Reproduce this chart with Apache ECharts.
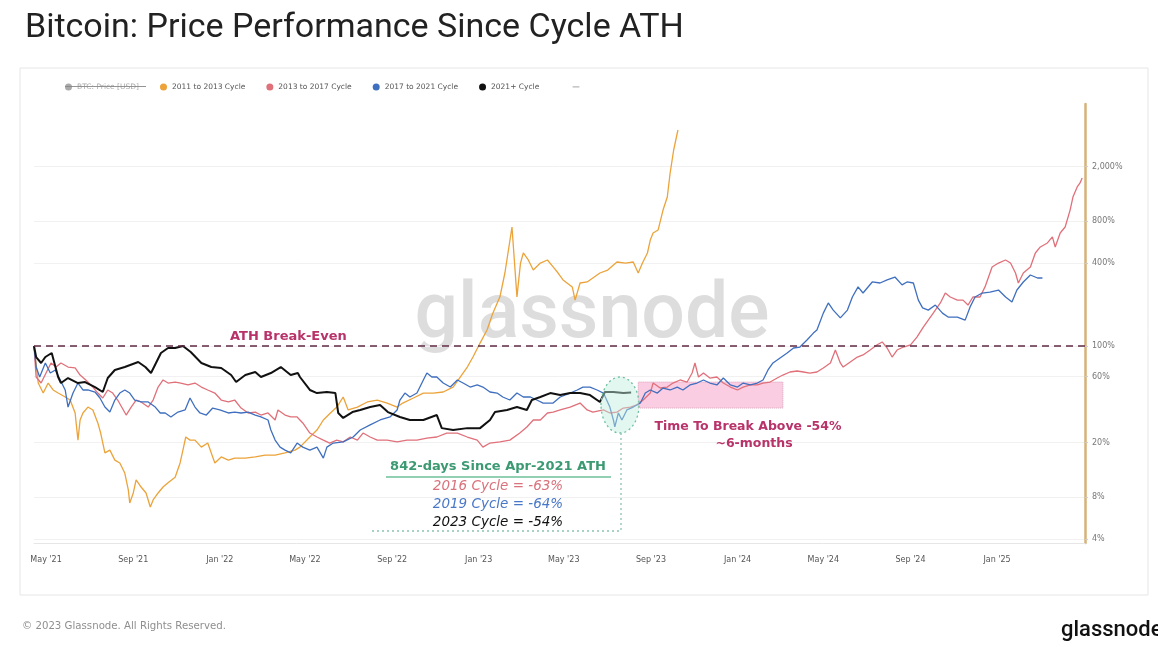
<!DOCTYPE html>
<html><head><meta charset="utf-8">
<script src="https://cdn.jsdelivr.net/npm/echarts@6/dist/echarts.min.js"></script>
<style>html,body{margin:0;padding:0;background:#fff}#c{width:1158px;height:647px}</style>
</head><body><div id="c"></div>
<script>
// ---------- data ----------
const athDate = '2021-04-14';           // Apr-2021 ATH, day 0 of the x axis
const xMaxDay = 1482;
const xTickDates = ['2021-05-01','2021-09-01','2022-01-01','2022-05-01','2022-09-01','2023-01-01','2023-05-01','2023-09-01','2024-01-01','2024-05-01','2024-09-01','2025-01-01'];
const xTickLabels = ["May '21","Sep '21","Jan '22","May '22","Sep '22","Jan '23","May '23","Sep '23","Jan '24","May '24","Sep '24","Jan '25"];
const yTickValues = [4, 8, 20, 60, 100, 400, 800, 2000];
const yTickLabels = ['4%', '8%', '20%', '60%', '100%', '400%', '800%', '2,000%'];
const seriesNames = ['2011 to 2013 Cycle', '2013 to 2017 Cycle', '2017 to 2021 Cycle', '2021+ Cycle'];

// days since cycle ATH, and price as % of cycle ATH
const orangeDays = [0,6,13,20,27,34,44,51,58,59,62,65,69,76,83,90,94,100,107,114,121,128,133,135,140,144,151,158,164,168,175,182,189,199,206,210,214,220,227,236,245,255,264,274,283,298,312,326,340,354,368,375,389,399,408,418,427,436,443,456,470,484,498,512,520,535,549,563,577,591,601,611,619,629,639,647,657,664,669,674,677,681,686,690,697,704,714,724,732,739,746,759,763,770,780,788,798,809,822,834,845,852,858,865,869,873,880,887,893,897,902,908];
const orangeVals = [100,53.9,45.6,53.9,48.0,45.6,42.7,40.6,32.7,29.1,20.8,29.1,32.7,36.1,34.4,27.7,23.4,16.8,17.6,14.9,14.2,12.0,9.05,7.28,8.61,10.7,9.51,8.61,6.81,7.66,8.61,9.51,10.2,11.2,14.2,17.6,21.9,20.8,20.8,18.5,19.8,14.2,15.7,14.9,15.4,15.4,15.7,16.2,16.2,16.8,17.6,18.5,21.9,24.6,29.1,32.7,36.1,42.7,34.4,36.1,39.3,40.6,38.6,36.1,38.6,42.0,45.6,45.6,46.4,50.4,59.6,70.4,83.2,105,131,173,227,338,496,728,441,227,399,472,420,355,399,420,374,338,301,268,215,286,291,311,338,355,406,399,406,338,399,472,586,659,692,966,1201,1793,2632,3674];

const pinkDays = [0,3,10,17,24,31,38,48,58,65,73,83,90,97,104,111,118,126,130,137,144,151,161,168,175,182,189,199,207,217,227,236,245,255,264,274,283,292,302,312,320,330,340,344,354,362,371,379,389,399,408,417,427,436,446,456,464,474,484,498,512,526,540,554,568,582,597,611,625,633,643,657,671,685,695,704,714,724,732,742,756,770,780,788,803,812,822,831,841,850,859,869,873,883,893,901,911,921,928,932,937,944,953,963,972,982,992,1000,1010,1020,1028,1038,1048,1056,1066,1076,1085,1094,1104,1113,1123,1130,1137,1141,1151,1161,1169,1179,1189,1196,1203,1210,1217,1226,1236,1245,1254,1261,1268,1278,1285,1292,1302,1310,1317,1324,1334,1341,1351,1360,1370,1377,1384,1388,1395,1405,1412,1419,1429,1436,1440,1447,1454,1461,1465,1471,1475,1478];
const pinkVals = [100,59.6,53.9,63.7,75.3,70.4,75.3,70.4,69.3,61.6,56.7,50.4,45.6,42.0,48.0,45.6,40.6,34.4,31.6,36.1,40.6,39.3,36.1,40.6,50.4,56.7,53.9,54.8,53.9,52.2,53.9,50.4,48.0,45.6,40.6,39.3,40.6,35.5,32.7,33.2,31.6,32.7,29.1,34.4,31.6,30.6,30.6,27.7,23.4,21.9,20.8,19.8,20.8,20.2,21.9,20.8,23.4,21.9,20.8,20.8,20.2,20.8,20.8,21.5,21.9,23.4,23.4,21.9,20.8,18.5,19.8,20.2,20.8,23.4,25.9,29.1,29.1,32.7,33.2,34.4,36.1,38.6,34.4,33.2,34.4,32.7,33.2,35.5,36.1,37.4,40.6,45.6,53.9,49.6,50.4,53.9,56.7,54.8,63.7,75.3,59.6,63.7,58.6,59.6,53.9,50.4,48.0,50.4,52.2,52.2,53.9,54.8,58.6,61.6,64.8,65.9,64.8,63.7,64.8,69.3,75.3,93.5,75.3,70.4,76.6,83.2,86.1,93.5,102,107,96.7,83.2,93.5,98.3,102,116,137,154,173,205,242,226.5,215,215,198,226.5,226.5,268,374,399,420,399,338,286,338,374,472,522,558,617,522,659,728,966,1201,1420,1518,1650];

const blueDays = [0,3,8,16,23,30,37,44,48,55,62,69,76,86,93,100,107,114,121,128,135,142,151,161,171,178,185,193,203,213,220,227,234,243,252,262,274,283,292,302,312,320,330,334,340,347,354,362,371,379,389,399,408,413,422,436,450,460,474,488,502,512,516,523,530,540,549,554,561,568,577,587,597,605,615,625,633,643,653,661,671,681,690,700,709,718,732,742,756,766,774,784,794,803,812,817,819,824,829,836,845,855,862,869,879,887,897,907,915,925,935,944,953,963,972,982,992,1000,1010,1020,1028,1035,1042,1052,1062,1071,1080,1090,1099,1104,1113,1120,1127,1137,1147,1154,1162,1169,1182,1193,1203,1214,1224,1231,1240,1247,1253,1261,1271,1281,1289,1302,1313,1320,1327,1337,1348,1360,1370,1379,1386,1395,1405,1415,1422];
const blueVals = [100,70.4,59.6,75.3,63.7,67.0,56.7,48.0,36.1,45.6,53.9,48.0,48.0,46.4,42.0,36.1,33.2,40.6,45.6,48.0,45.6,40.6,39.3,39.3,36.1,32.7,32.7,30.6,33.2,34.4,42.0,36.1,32.7,31.6,35.5,34.4,32.7,33.2,32.7,33.2,31.6,30.6,29.1,24.6,20.8,18.5,17.6,16.8,19.8,18.5,17.6,18.5,15.4,18.5,19.8,20.2,21.9,24.6,26.8,29.1,30.6,34.4,40.6,45.6,42.7,45.6,56.7,63.7,59.6,59.6,53.9,50.4,56.7,53.9,50.4,52.2,50.4,46.4,45.6,42.7,40.6,45.6,42.7,42.7,40.6,38.6,38.6,42.7,45.6,48.0,50.4,50.4,48.0,45.6,36.1,29.1,25.9,32.7,29.1,34.4,36.1,38.6,45.6,48.0,45.6,49.6,48.0,50.4,48.0,52.2,53.9,56.7,53.9,52.2,58.6,52.2,50.4,53.9,52.2,53.9,56.7,67.0,75.3,81.9,89.0,96.7,98.3,110.5,124,130.6,173,205,182,160,182,226.5,268,242,291,286,301,316,277,291,286,215,189,182,198,173,162,162,154,192,226.5,242,246,254.5,226.5,208,254.5,291,327,311,311];

const blackDays = [0,3,10,16,25,34,38,48,62,72,86,97,104,114,128,147,157,165,172,179,189,199,210,221,236,250,264,278,285,298,312,320,334,348,362,372,375,389,399,413,425,429,436,449,460,474,488,499,516,530,549,568,575,591,611,629,643,650,667,681,695,702,714,728,742,756,770,784,798,805,817,831,842];
const blackVals = [100,83.2,75.3,83.2,89.0,59.6,53.9,58.6,53.9,54.8,50.4,46.4,58.6,67.0,70.4,76.6,70.4,63.7,75.3,89.0,96.7,96.7,100,90.5,75.3,70.4,69.3,61.6,54.8,61.6,64.8,59.6,63.7,70.4,61.6,63.7,59.6,48.0,45.6,46.4,45.6,32.7,30.1,33.2,34.4,36.1,37.4,33.2,30.6,29.1,29.1,31.6,25.4,24.6,25.4,25.4,29.1,33.2,34.4,36.1,34.4,40.6,42.7,45.6,44.1,45.6,45.6,44.1,39.3,46.4,46.4,45.6,46];

// shaded "time to break above -54%" zone
const breakZoneDays = [852, 1056];
const breakZoneVals = [35.5, 54.8];

// ---------- build ----------
const DAY = 86400000;
const ath = Date.parse(athDate + 'T00:00:00Z');
const xTickDays = xTickDates.map(d => Math.round((Date.parse(d + 'T00:00:00Z') - ath) / DAY));
const pair = (ds, vs) => ds.map((d, i) => [d, vs[i]]);
const FONT = 'Roboto, "Noto Sans", sans-serif';
const WIDE = '"DejaVu Sans", Roboto, sans-serif';

const lineSeries = (name, color, width, days, vals, extra) => Object.assign({
  name, type: 'line', data: pair(days, vals), showSymbol: false, symbol: 'none',
  lineStyle: { color, width }, itemStyle: { color }, emphasis: { disabled: true }, animation: false
}, extra || {});

const txt = (text, x, y, size, fill, opts) => ({
  type: 'text', z: 20, silent: true,
  style: Object.assign({ text, x, y, textAlign: 'center', textVerticalAlign: 'middle', fontSize: size, fontFamily: WIDE, fill }, opts || {})
});

const chart = echarts.init(document.getElementById('c'), null, { renderer: 'canvas' });
chart.setOption({
  backgroundColor: '#fff',
  animation: false,
  textStyle: { fontFamily: FONT },
  title: {
    text: 'Bitcoin: Price Performance Since Cycle ATH', left: 20, top: 6,
    textStyle: { fontSize: 34, fontWeight: 'normal', color: '#222', fontFamily: FONT }
  },
  legend: {
    left: 65, top: 83, itemGap: 21, itemWidth: 7, itemHeight: 7, padding: 0,
    textStyle: { fontSize: 7.5, color: '#555', fontFamily: WIDE }, inactiveColor: '#aaa',
    selected: { 'BTC: Price [USD]': false },
    data: [
      { name: 'BTC: Price [USD]', icon: 'circle' },
      { name: seriesNames[0], icon: 'circle' },
      { name: seriesNames[1], icon: 'circle' },
      { name: seriesNames[2], icon: 'circle' },
      { name: seriesNames[3], icon: 'circle' },
      { name: '—', icon: 'none' }
    ]
  },
  grid: { left: 34, right: 73, top: 104, bottom: 104 },
  xAxis: {
    type: 'value', min: 0, max: xMaxDay,
    axisLine: { show: true, lineStyle: { color: '#e6e6e6' } },
    axisTick: { show: false },
    splitLine: { show: false },
    axisLabel: {
      customValues: xTickDays, fontSize: 8, color: '#555', margin: 13, fontFamily: WIDE,
      formatter: v => { const i = xTickDays.indexOf(Math.round(v)); return i >= 0 ? xTickLabels[i] : ''; }
    }
  },
  yAxis: {
    type: 'log', logBase: 10, position: 'right', min: 3.736, max: 5670,
    axisLine: { show: true, onZero: false, lineStyle: { color: '#d6b27a', width: 2.5 } },
    axisTick: { show: true, customValues: yTickValues, length: 3, lineStyle: { color: '#ccc' } },
    splitLine: { show: true, lineStyle: { color: '#f1f1f1' } },
    axisLabel: {
      customValues: yTickValues, fontSize: 8, color: '#777', margin: 7, fontFamily: WIDE,
      formatter: v => { const i = yTickValues.findIndex(t => Math.abs(t - v) / t < 1e-6); return i >= 0 ? yTickLabels[i] : ''; }
    }
  },
  series: [
    { name: 'BTC: Price [USD]', type: 'line', data: [], itemStyle: { color: '#999' } },
    lineSeries(seriesNames[0], '#eba33a', 1.3, orangeDays, orangeVals, {
      markLine: {
        silent: true, symbol: 'none', animation: false,
        lineStyle: { color: '#5e2a44', width: 1.6, type: [7, 5] },
        label: { show: false },
        data: [{ yAxis: 100 }]
      }
    }),
    lineSeries(seriesNames[1], '#e0707a', 1.3, pinkDays, pinkVals, {
      markArea: {
        silent: true,
        itemStyle: { color: 'rgba(246,172,206,0.6)', borderColor: '#d7a3ba', borderWidth: 1, borderType: 'dotted' },
        data: [[{ xAxis: breakZoneDays[0], yAxis: breakZoneVals[0] }, { xAxis: breakZoneDays[1], yAxis: breakZoneVals[1] }]]
      }
    }),
    lineSeries(seriesNames[2], '#3f6fbf', 1.3, blueDays, blueVals),
    lineSeries(seriesNames[3], '#111111', 2, blackDays, blackVals),
    { name: '—', type: 'line', data: [], itemStyle: { color: '#555' } }
  ],
  graphic: [
    { type: 'rect', z: -10, silent: true, shape: { x: 20, y: 68, width: 1128, height: 527 }, style: { fill: 'none', stroke: '#e6e6e6', lineWidth: 1 } },
    { type: 'line', z: 20, silent: true, shape: { x1: 65, y1: 86.5, x2: 146, y2: 86.5 }, style: { stroke: '#888', lineWidth: 0.9 } },
    { type: 'text', z: -5, silent: true, style: { text: 'glassnode', x: 592, y: 318, textAlign: 'center', textVerticalAlign: 'middle', fontSize: 77, fontWeight: 500, fontFamily: FONT, fill: 'rgba(160,160,160,0.36)' } },
    txt('ATH Break-Even', 230, 337, 13, '#b8336a', { textAlign: 'left', fontWeight: 'bold' }),
    { type: 'ellipse', z: 20, silent: true, shape: { cx: 620, cy: 405, rx: 19, ry: 28 }, style: { fill: 'rgba(190,238,222,0.45)', stroke: '#6cc0a0', lineWidth: 1.3, lineDash: [2, 3] } },
    { type: 'polyline', z: 20, silent: true, shape: { points: [[621, 433], [621, 531], [370, 531]] }, style: { fill: 'none', stroke: '#8cc4ae', lineWidth: 1.3, lineDash: [2, 3] } },
    txt('842-days Since Apr-2021 ATH', 498, 467, 13, '#3c9a72', { fontWeight: 'bold' }),
    { type: 'line', z: 20, silent: true, shape: { x1: 386, y1: 477, x2: 611, y2: 477 }, style: { stroke: '#6fbf98', lineWidth: 1.5 } },
    txt('2016 Cycle = -63%', 498, 486, 13.5, '#d9727c', { fontStyle: 'italic' }),
    txt('2019 Cycle = -64%', 498, 504, 13.5, '#4a78c8', { fontStyle: 'italic' }),
    txt('2023 Cycle = -54%', 498, 522, 13.5, '#111', { fontStyle: 'italic' }),
    txt('Time To Break Above -54%', 748, 427, 12.5, '#b8336a', { fontWeight: 'bold' }),
    txt('~6-months', 754, 444, 12.5, '#b8336a', { fontWeight: 'bold' }),
    txt('© 2023 Glassnode. All Rights Reserved.', 22, 626, 10.2, '#8f8f8f', { textAlign: 'left' }),
    { type: 'text', z: 20, silent: true, style: { text: 'glassnode', x: 1061, y: 630, textAlign: 'left', textVerticalAlign: 'middle', fontSize: 22, fontWeight: 500, fontFamily: FONT, fill: '#111' } }
  ]
});
</script>
</body></html>
